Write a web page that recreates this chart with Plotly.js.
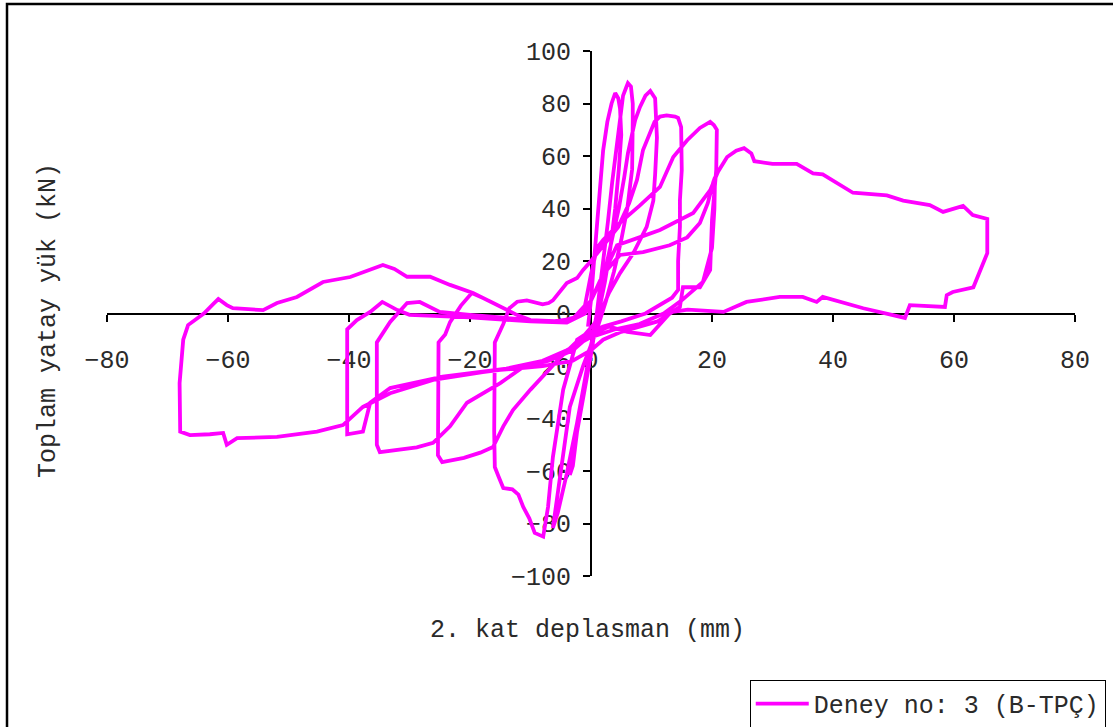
<!DOCTYPE html>
<html>
<head>
<meta charset="utf-8">
<script src="https://cdn.plot.ly/plotly-3.0.1.min.js"></script>
<style>html,body{margin:0;padding:0;background:#fff;}#chart{width:1113px;height:727px;}</style>
</head>
<body>
<div id="chart"></div>
<script>
// Displacement (mm) and load (kN), traced cycle by cycle
const cycle1Disp = [-0.5, 0, 0.5, 1, 1.5, 2, 2.7, 3.4, 4.0, 4.5, 4.8, 5.0, 4.6, 4.0, 3.2, 2.3, 1.5, 0.8, 0, -1.3, -2.6, -3.5];
const cycle1Load = [-5, 5, 20, 35, 50, 62, 73, 80, 84, 82, 78, 68, 55, 40, 25, 12, 3, -5, -12, -29, -48, -61.5];

const cycle2Disp = [-3.0, -2.3, -1.5, -0.5, 0.2, 0.8, 1.4, 2.0, 2.8, 3.5, 4.2, 4.8, 5.3, 5.8, 6.1, 6.6, 6.9, 6.9, 6.8, 6.0, 5.0, 3.8, 2.5, 1.0, -1.3, -3.5, -5.1, -5.8, -6.3];
const cycle2Load = [-58, -45, -35, -22, -13, -3, 8, 20, 35, 50, 62, 72, 83, 86, 87.8, 86.5, 80, 73.7, 55, 40, 28, 16, 5, -6, -20, -35.6, -61, -72, -81.7];

const cycle3Disp = [-5.5, -4.0, -2.3, -0.7, 0.3, 1.2, 2.2, 3.5, 4.6, 5.5, 6.1, 7.3, 8.1, 9.0, 9.8, 10.6, 10.8, 10.9, 10.6, 10.3, 9.2, 7.0, 4.8, 3.0, 1.5, 0.5, -1.0, -2.3, -4.6, -6.3, -7.1, -7.9, -9.3, -10.2, -11.2, -12.0, -13.0, -14.5, -15.3, -15.9, -16.0, -16.0, -15.9, -14.5, -13.5, -12.2, -10.6, -8.0, -7.0, -6.3, -5.0, -4.0, -2.3, -1.3, 0];
const cycle3Load = [-76, -61, -41.7, -20.4, -8, 3, 15, 28, 40, 52, 61, 73.7, 78.7, 83, 84.8, 82, 75, 67, 53, 43, 33, 23, 15.4, 8, 0, -4, -8, -10, -29, -54.7, -73.7, -85, -83.6, -78, -73.7, -69, -67, -66.5, -62, -58.5, -45, -30, -11, -4, 2, 4.5, 5, 3.5, 4, 5, 9, 11.6, 13.5, 16.6, 20];

const cycle4Disp = [2.0, 4.5, 6.3, 7.6, 8.6, 9.8, 10.5, 11.4, 12.5, 13.9, 14.4, 14.9, 15.0, 15.0, 14.7, 14.7, 14.4, 14.4, 13.4, 11.9, 9.0, 5.0, 2.0, 0, -2.5, -5.0, -10.0, -12.9, -14.5, -16.2, -18.3, -21.0, -24.6, -25.3, -25.3, -25.3, -25.2, -24.1, -23.3, -21.5, -19.7, -17.0, -15.0, -12.2, -10.0, -6.0, -3.0, -1.0, 0];
const cycle4Load = [26, 33, 42, 50.9, 62.3, 68.8, 73, 75, 75.5, 75, 74.5, 71, 60, 54.6, 43.2, 33, 20, 9, 6, 4, 0, -3, -5, -7, -11, -16.6, -29, -36.8, -43, -50.9, -53, -55, -56.6, -54, -40, -25, -11, -8, -3.3, 3, 7.8, 5, 2.5, -0.6, -2.5, -3, -2, 3, 15];

const cycle5Disp = [1.0, 2.0, 5.0, 8.0, 11.4, 13.6, 15.9, 18.0, 19.7, 20.3, 20.8, 20.7, 20.2, 20.0, 19.7, 18.0, 15.2, 14.7, 13.0, 11.5, 9.8, 6.0, 3.0, 0, -3.0, -7.0, -11.2, -15.0, -17.9, -20.5, -23.3, -26.1, -28.8, -32.0, -34.9, -35.4, -35.4, -35.4, -33.2, -30.4, -28.3, -25.0, -20.0, -15.0, -10.0, -5.0, -2.0, 0];
const cycle5Load = [25, 28, 35, 41, 48.2, 59.6, 66, 70.7, 73, 71.8, 70, 54.7, 42, 35.6, 16.6, 10, 10, 2.5, 0, -4, -8.2, -7, -5, -8, -14, -18, -20.4, -26.5, -30.5, -34, -43, -49.3, -51, -52, -52.8, -50, -30, -11, -3.2, 4, 4.4, 0.6, -0.5, -1.5, -2.5, -3, -1, 5];

const cycle6Disp = [2.0, 4.8, 8.6, 13.0, 15.9, 18.0, 19.3, 20.2, 20.5, 20.4, 20.0, 18.5, 15.0, 12.0, 8.0, 4.0, 0, -4.0, -8.0, -14.0, -18.3, -24.5, -33.2, -36.5, -37.7, -40.3, -40.3, -40.3, -38.7, -36.5, -34.5, -32.0, -30.0, -20.0, -10.0, -4.0, -1.0, 1.0, 3.0];
const cycle6Load = [15, 22.3, 23.4, 26, 29, 34.5, 42, 50, 52, 40, 25, 12, 5, 0, -4, -6, -9, -14, -18, -21, -22.3, -24, -28.4, -34, -45, -46, -30, -6, -2.5, 0.6, 4.4, 1.3, -0.5, -1.5, -3, -3.5, 0, 10, 20];

const cycle7Disp = [4.3, 8.0, 11.4, 16.9, 19.7, 21.0, 22.5, 24.0, 25.3, 26.5, 27.0, 30.0, 34.0, 36.7, 38.3, 43.3, 48.9, 51.6, 56.0, 58.2, 60.0, 61.5, 63.1, 65.5, 65.5, 64.6, 63.2, 59.8, 58.8, 58.5, 52.7, 51.9, 45.0, 38.3, 37.3, 35.0, 31.2, 25.7, 21.9, 16.0, 13.5, 11.0, 8.0, 5.0, 2.0, 0, -3.0, -8.0, -15.0, -17.9, -26.1, -33.2, -37.7, -41.0, -45.3, -51.9, -58.5, -60.2, -60.8, -63.0, -66.3, -67.9, -68.0, -67.4, -66.6, -64.0, -62.5, -61.6, -60.2, -59.2, -54.2, -51.9, -48.6, -44.3, -39.8, -36.0, -34.4, -32.5, -30.4, -26.6, -23.3, -19.5, -15.0, -12.2, -10.0, -5.0];
const cycle7Load = [26, 29, 31.8, 38.3, 47, 54, 59.6, 62, 63, 61, 58, 57, 57, 53.4, 53, 46, 45, 43, 41.3, 38.7, 40, 41, 37.5, 36, 23, 17.7, 10, 8.2, 7, 2.5, 3.2, -1.7, 2, 6.3, 4.4, 6.3, 6.3, 4.4, 0.6, 1.5, 0.6, -3, -5, -7, -10, -14, -18, -20, -21.5, -22.3, -25.3, -30.4, -35.6, -42.5, -45, -47, -47.5, -50, -45.5, -46, -46.3, -45, -26.5, -10, -4.4, 0, 3.5, 5.5, 3.2, 2, 1.3, 4, 6.3, 12, 13.9, 17, 18.5, 17, 14, 14, 10.9, 7.8, 2.5, -0.6, -2.5, -3.5];

const seriesName = 'Deney no: 3 (B-TPÇ)';
const xTickVals = [-80, -60, -40, -20, 0, 20, 40, 60, 80];
const yTickVals = [-100, -80, -60, -40, -20, 0, 20, 40, 60, 80, 100];

const disp = [].concat(cycle1Disp, cycle2Disp, cycle3Disp, cycle4Disp, cycle5Disp, cycle6Disp, cycle7Disp);
const load = [].concat(cycle1Load, cycle2Load, cycle3Load, cycle4Load, cycle5Load, cycle6Load, cycle7Load);

const FONT = 'Liberation Mono, Courier New, monospace';
const TEXT_COLOR = '#2a2a2a';

const trace = {
  x: disp, y: load, type: 'scatter', mode: 'lines', name: seriesName,
  line: {color: '#FF00FF', width: 3.8}
};

const axisCommon = {
  showgrid: false, zeroline: false, showline: true, linecolor: '#000', linewidth: 2,
  ticks: 'outside', ticklen: 7, tickwidth: 2, tickcolor: '#000',
  tickfont: {family: FONT, size: 25, color: TEXT_COLOR},
  anchor: 'free', position: 0.5, layer: 'below traces'
};

const layout = {
  width: 1113, height: 727,
  margin: {l: 107, r: 38, t: 51, b: 151, autoexpand: false},
  paper_bgcolor: '#fff', plot_bgcolor: '#fff',
  showlegend: true,
  xaxis: Object.assign({}, axisCommon, {range: [-80, 80], tickvals: xTickVals, side: 'bottom', ticklabelstandoff: 16, domain: [0, 1]}),
  yaxis: Object.assign({}, axisCommon, {range: [-100, 100], tickvals: yTickVals, side: 'left', ticklabelstandoff: 7, domain: [0, 1]}),
  legend: {
    x: 0.664, y: -0.198, xanchor: 'left', yanchor: 'top', itemwidth: 53,
    bgcolor: '#fff', bordercolor: '#000', borderwidth: 1,
    font: {family: FONT, size: 25, color: TEXT_COLOR}
  },
  annotations: [
    {text: '2. kat deplasman (mm)', xref: 'paper', yref: 'paper', x: 0.496, y: -0.103,
     xanchor: 'center', yanchor: 'middle', showarrow: false, font: {family: FONT, size: 25, color: TEXT_COLOR}},
    {text: 'Toplam yatay yük (kN)', xref: 'paper', yref: 'paper', x: -0.061, y: 0.4876,
     xanchor: 'center', yanchor: 'middle', textangle: -90, showarrow: false, font: {family: FONT, size: 25, color: TEXT_COLOR}}
  ],
  shapes: [
    {type: 'rect', xref: 'paper', yref: 'paper', x0: -0.1033, x1: 1.06, y0: -0.33, y1: 1.0895,
     line: {color: '#000', width: 2.5}, fillcolor: 'rgba(0,0,0,0)', layer: 'below'}
  ]
};

Plotly.newPlot('chart', [trace], layout, {displayModeBar: false, staticPlot: true});
</script>
</body>
</html>
